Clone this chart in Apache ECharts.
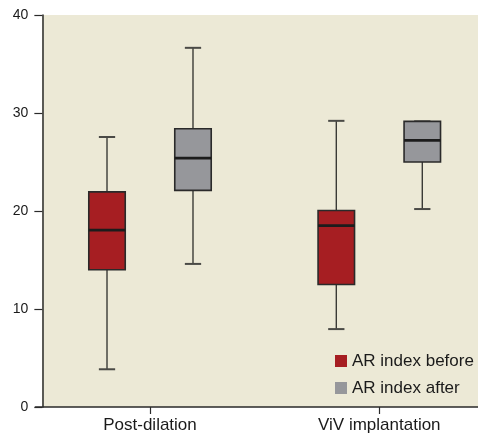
<!DOCTYPE html>
<html><head><meta charset="utf-8">
<script src="https://cdn.jsdelivr.net/npm/echarts@6/dist/echarts.min.js"></script>
<style>html,body{margin:0;padding:0;background:#fff}#c{width:478px;height:441px}</style>
</head><body><div id="c"></div>
<script>
// Data
const categories = ['Post-dilation', 'ViV implantation'];
const seriesNames = ['AR index before', 'AR index after'];
// each entry: [min, Q1, median, Q3, max]
const arBeforePost = [3.85, 14.0, 18.05, 21.95, 27.55];
const arBeforeViV = [7.95, 12.5, 18.5, 20.05, 29.2];
const arAfterPost = [14.6, 22.1, 25.4, 28.4, 36.65];
const arAfterViV = [20.2, 25.0, 27.2, 29.15, 29.15];
const yTicks = [0, 10, 20, 30, 40];

const colors = ['#a61e22', '#96979b'];

function rows(list) {
  return list.map((v, i) => [categories[i]].concat(v));
}

function makeRender(offsetFrac, fill) {
  return function (params, api) {
    const c = api.value(0);
    const v = [1, 2, 3, 4, 5].map(i => api.value(i));
    const band = api.size([1, 0])[0];
    const x = api.coord([c, 0])[0] + offsetFrac * band;
    const bw = band * 0.159, cw = band * 0.071;
    const y = v.map(val => api.coord([c, val])[1]);
    const ws = { stroke: '#3a3a36', lineWidth: 1.4 };
    const cs = { stroke: '#4a4a46', lineWidth: 2 };
    return {
      type: 'group',
      children: [
        { type: 'line', shape: { x1: x, y1: y[4], x2: x, y2: y[3] }, style: ws },
        { type: 'line', shape: { x1: x, y1: y[1], x2: x, y2: y[0] }, style: ws },
        { type: 'line', shape: { x1: x - cw / 2, y1: y[4], x2: x + cw / 2, y2: y[4] }, style: cs },
        { type: 'line', shape: { x1: x - cw / 2, y1: y[0], x2: x + cw / 2, y2: y[0] }, style: cs },
        { type: 'rect', shape: { x: x - bw / 2, y: y[3], width: bw, height: y[1] - y[3] },
          style: { fill: fill, stroke: '#2a2a2a', lineWidth: 1.6 } },
        { type: 'line', shape: { x1: x - bw / 2, y1: y[2], x2: x + bw / 2, y2: y[2] },
          style: { stroke: '#1c1c1c', lineWidth: 2.8 } }
      ]
    };
  };
}

const chart = echarts.init(document.getElementById('c'), null, { renderer: 'canvas' });
const font = 'Liberation Sans, Arial, sans-serif';
chart.setOption({
  animation: false,
  grid: [
    { left: 35.35, width: 458.6, top: 15, height: 392, containLabel: false, outerBoundsMode: 'none', show: false },
    { left: 42, right: 0, top: 15, height: 392, outerBoundsMode: 'none', show: true, backgroundColor: '#ece9d6', borderWidth: 0, z: -1 }
  ],
  xAxis: [{
    type: 'category', data: categories, gridIndex: 0,
    axisLine: { lineStyle: { color: '#2a2a2a', width: 1.5 } },
    axisTick: { show: true, alignWithLabel: true, length: 7, lineStyle: { color: '#2a2a2a', width: 1.2 } },
    axisLabel: { color: '#1a1a1a', fontSize: 17, fontFamily: font, margin: 10 },
    splitLine: { show: false }
  }],
  yAxis: [{
    type: 'value', gridIndex: 0, min: 0, max: 40, interval: 10, offset: -7,
    axisLine: { show: true, lineStyle: { color: '#2a2a2a', width: 1.5 } },
    axisTick: { show: true, length: 8, lineStyle: { color: '#2a2a2a', width: 1.2 } },
    axisLabel: { color: '#1a1a1a', fontSize: 14, fontFamily: 'Liberation Sans Narrow, Liberation Sans, sans-serif', margin: 14,
      formatter: v => (yTicks.indexOf(v) >= 0 ? String(v) : '') },
    splitLine: { show: false }
  }],
  legend: {
    orient: 'vertical', left: 330, top: 347, icon: 'rect', itemWidth: 12, itemHeight: 12, itemGap: 9,
    textStyle: { color: '#1a1a1a', fontSize: 17, fontFamily: font, lineHeight: 18, padding: [0, 0, 0, 0] },
    data: seriesNames
  },
  series: [
    { name: seriesNames[0], type: 'custom', xAxisIndex: 0, yAxisIndex: 0,
      itemStyle: { color: colors[0] },
      renderItem: makeRender(-0.1875, colors[0]),
      encode: { x: 0, y: [1, 2, 3, 4, 5] },
      data: rows([arBeforePost, arBeforeViV]) },
    { name: seriesNames[1], type: 'custom', xAxisIndex: 0, yAxisIndex: 0,
      itemStyle: { color: colors[1] },
      renderItem: makeRender(0.1875, colors[1]),
      encode: { x: 0, y: [1, 2, 3, 4, 5] },
      data: rows([arAfterPost, arAfterViV]) }
  ]
});
</script>
</body></html>
